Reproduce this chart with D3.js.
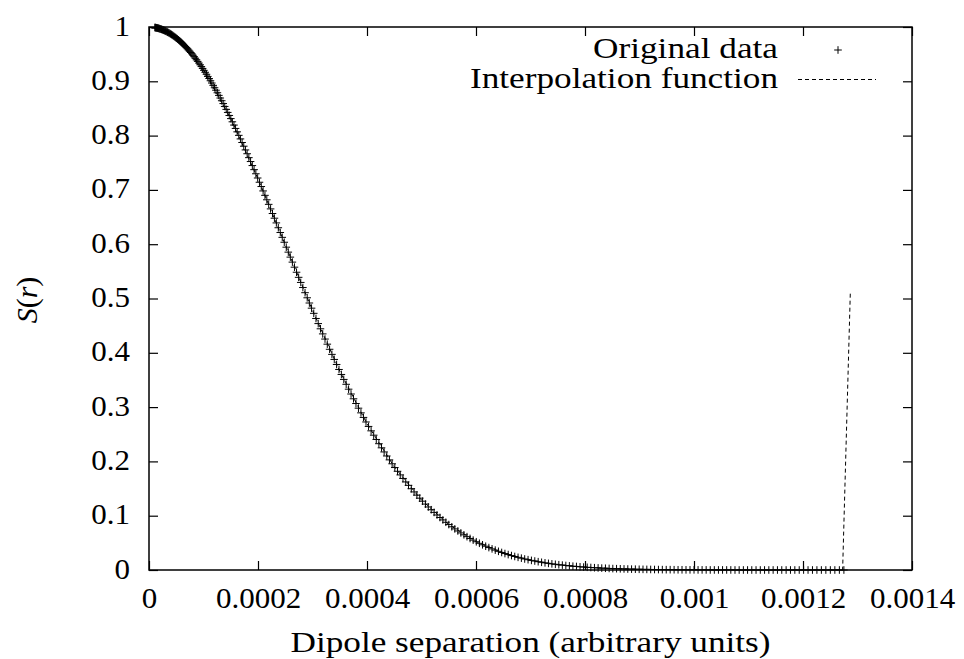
<!DOCTYPE html>
<html><head><meta charset="utf-8">
<script src="https://cdn.jsdelivr.net/npm/d3@7"></script>
<style>body{margin:0;background:#fff} svg{display:block}</style>
</head><body><svg id="c" width="964" height="659"></svg>
<script>
const xTicks = [0, 0.0002, 0.0004, 0.0006, 0.0008, 0.001, 0.0012, 0.0014];
const xTickLabels = ["0","0.0002","0.0004","0.0006","0.0008","0.001","0.0012","0.0014"];
const yTicks = [0, 0.1, 0.2, 0.3, 0.4, 0.5, 0.6, 0.7, 0.8, 0.9, 1];
const yTickLabels = ["0","0.1","0.2","0.3","0.4","0.5","0.6","0.7","0.8","0.9","1"];
const seriesNames = ["Original data", "Interpolation function"];

// Original data: dipole separation r and S(r)
const dataR = [
10.68e-6,11.45e-6,12.26e-6,13.09e-6,13.94e-6,14.83e-6,15.74e-6,16.68e-6,17.65e-6,18.64e-6,
19.66e-6,20.71e-6,21.79e-6,22.89e-6,24.02e-6,25.18e-6,26.36e-6,27.57e-6,28.81e-6,30.08e-6,
31.37e-6,32.69e-6,34.04e-6,35.42e-6,36.82e-6,38.25e-6,39.71e-6,41.19e-6,42.70e-6,44.24e-6,
45.81e-6,47.40e-6,49.02e-6,50.67e-6,52.34e-6,54.05e-6,55.78e-6,57.53e-6,59.32e-6,61.13e-6,
62.97e-6,64.83e-6,66.72e-6,68.64e-6,70.59e-6,72.57e-6,74.57e-6,76.60e-6,78.65e-6,80.74e-6,
82.85e-6,84.98e-6,87.15e-6,89.34e-6,91.56e-6,93.81e-6,96.08e-6,98.38e-6,100.71e-6,103.07e-6,
105.45e-6,107.86e-6,110.30e-6,112.76e-6,115.25e-6,117.77e-6,120.32e-6,122.89e-6,125.49e-6,128.12e-6,
130.78e-6,133.46e-6,136.17e-6,138.91e-6,141.67e-6,144.46e-6,147.28e-6,150.13e-6,153.00e-6,155.90e-6,
158.83e-6,161.78e-6,164.77e-6,167.78e-6,170.81e-6,173.88e-6,176.96e-6,180.08e-6,183.23e-6,186.40e-6,
189.60e-6,192.83e-6,196.08e-6,199.37e-6,202.68e-6,206.01e-6,209.38e-6,212.77e-6,216.18e-6,219.63e-6,
223.10e-6,226.60e-6,230.13e-6,233.68e-6,237.26e-6,240.87e-6,244.51e-6,248.17e-6,251.86e-6,255.58e-6,
259.32e-6,263.09e-6,266.89e-6,270.72e-6,274.57e-6,278.45e-6,282.36e-6,286.30e-6,290.26e-6,294.25e-6,
298.27e-6,302.31e-6,306.38e-6,310.48e-6,314.61e-6,318.76e-6,322.94e-6,327.15e-6,331.38e-6,335.65e-6,
339.93e-6,344.25e-6,348.60e-6,352.97e-6,357.37e-6,361.79e-6,366.24e-6,370.72e-6,375.23e-6,379.76e-6,
384.33e-6,388.91e-6,393.53e-6,398.18e-6,402.85e-6,407.54e-6,412.27e-6,417.02e-6,421.80e-6,426.61e-6,
431.44e-6,436.30e-6,441.19e-6,446.11e-6,451.05e-6,456.02e-6,461.02e-6,466.04e-6,471.09e-6,476.17e-6,
481.28e-6,486.41e-6,491.57e-6,496.76e-6,501.98e-6,507.22e-6,512.49e-6,517.79e-6,523.11e-6,528.46e-6,
533.84e-6,539.25e-6,544.68e-6,550.14e-6,555.63e-6,561.14e-6,566.69e-6,572.25e-6,577.85e-6,583.48e-6,
589.13e-6,594.80e-6,600.51e-6,606.24e-6,612.00e-6,617.79e-6,623.60e-6,629.45e-6,635.31e-6,641.21e-6,
647.13e-6,653.09e-6,659.06e-6,665.07e-6,671.10e-6,677.16e-6,683.25e-6,689.36e-6,695.50e-6,701.67e-6,
707.87e-6,714.09e-6,720.34e-6,726.62e-6,732.92e-6,739.25e-6,745.61e-6,752.00e-6,758.41e-6,764.85e-6,
771.32e-6,777.82e-6,784.34e-6,790.89e-6,797.47e-6,804.07e-6,810.70e-6,817.36e-6,824.05e-6,830.76e-6,
837.50e-6,844.27e-6,851.06e-6,857.89e-6,864.73e-6,871.61e-6,878.51e-6,885.44e-6,892.40e-6,899.39e-6,
906.40e-6,913.44e-6,920.51e-6,927.60e-6,934.72e-6,941.87e-6,949.05e-6,956.25e-6,963.48e-6,970.74e-6,
978.03e-6,985.34e-6,992.68e-6,1000.05e-6,1007.44e-6,1014.86e-6,1022.31e-6,1029.79e-6,1037.29e-6,1044.82e-6,
1052.38e-6,1059.96e-6,1067.57e-6,1075.21e-6,1082.88e-6,1090.57e-6,1098.29e-6,1106.04e-6,1113.82e-6,1121.62e-6,
1129.45e-6,1137.31e-6,1145.20e-6,1153.10e-6,1161.04e-6,1169.01e-6,1177.00e-6,1185.02e-6,1193.07e-6,1201.14e-6,
1209.25e-6,1217.37e-6,1225.53e-6,1233.71e-6,1241.92e-6,1250.16e-6,1258.43e-6,1266.72e-6,1275.04e-6
];
const dataS = [
0.9991,0.9989,0.9988,0.9986,0.9984,0.9982,0.9980,0.9977,0.9975,0.9972,
0.9968,0.9965,0.9961,0.9957,0.9953,0.9948,0.9943,0.9938,0.9932,0.9926,
0.9920,0.9913,0.9905,0.9898,0.9889,0.9881,0.9872,0.9862,0.9852,0.9841,
0.9829,0.9818,0.9805,0.9792,0.9778,0.9763,0.9748,0.9732,0.9716,0.9698,
0.9680,0.9661,0.9642,0.9621,0.9600,0.9577,0.9554,0.9530,0.9506,0.9480,
0.9453,0.9425,0.9396,0.9367,0.9336,0.9304,0.9271,0.9237,0.9202,0.9166,
0.9129,0.9090,0.9051,0.9010,0.8968,0.8925,0.8881,0.8836,0.8789,0.8741,
0.8692,0.8642,0.8590,0.8537,0.8483,0.8427,0.8371,0.8313,0.8254,0.8194,
0.8132,0.8069,0.8005,0.7939,0.7873,0.7805,0.7736,0.7666,0.7594,0.7522,
0.7448,0.7373,0.7297,0.7219,0.7141,0.7062,0.6981,0.6900,0.6818,0.6734,
0.6650,0.6565,0.6479,0.6392,0.6303,0.6215,0.6126,0.6036,0.5945,0.5854,
0.5762,0.5670,0.5577,0.5484,0.5390,0.5296,0.5202,0.5107,0.5013,0.4917,
0.4822,0.4727,0.4632,0.4538,0.4442,0.4348,0.4253,0.4159,0.4065,0.3971,
0.3878,0.3785,0.3693,0.3601,0.3510,0.3420,0.3330,0.3241,0.3153,0.3066,
0.2980,0.2894,0.2810,0.2726,0.2644,0.2563,0.2483,0.2404,0.2326,0.2250,
0.2174,0.2100,0.2028,0.1956,0.1887,0.1818,0.1751,0.1686,0.1622,0.1559,
0.1497,0.1438,0.1379,0.1323,0.1267,0.1214,0.1161,0.1110,0.1061,0.1013,
0.0967,0.0922,0.0879,0.0837,0.0796,0.0757,0.0719,0.0683,0.0648,0.0614,
0.0581,0.0550,0.0520,0.0492,0.0464,0.0438,0.0413,0.0389,0.0366,0.0344,
0.0323,0.0303,0.0284,0.0266,0.0249,0.0233,0.0218,0.0203,0.0190,0.0177,
0.0165,0.0153,0.0142,0.0132,0.0122,0.0113,0.0105,0.0097,0.0090,0.0083,
0.0076,0.0070,0.0065,0.0059,0.0054,0.0050,0.0046,0.0042,0.0038,0.0035,
0.0032,0.0029,0.0026,0.0024,0.0022,0.0020,0.0018,0.0016,0.0015,0.0013,
0.0012,0.0011,0.0010,0.0009,0.0008,0.0007,0.0006,0.0006,0.0005,0.0004,
0.0004,0.0003,0.0003,0.0003,0.0002,0.0002,0.0002,0.0001,0.0001,0.0001,
0.0001,0.0001,0.0001,0,0,0,0,0,0,0,
0,0,0,0,0,0,0,0,0,0,
0,0,0,0,0,0,0,0,0
];

// Interpolation function samples
const interpR = [0,50e-6,100e-6,150e-6,200e-6,250e-6,300e-6,350e-6,400e-6,450e-6,500e-6,550e-6,600e-6,650e-6,
  700e-6,750e-6,800e-6,850e-6,900e-6,950e-6,1000e-6,1050e-6,1100e-6,1150e-6,1200e-6,1250e-6,1272.7e-6,1286.9e-6];
const interpS = [1,0.9797,0.9213,0.8316,0.7204,0.5991,0.4782,0.3664,0.2694,0.1901,0.1288,0.0838,0.0523,0.0313,
  0.0180,0.0099,0.0053,0.0027,0.0013,0.0006,0.0003,0.0001,0,0,0,0,0,0.514];

const svg = d3.select("#c");
const FONT = "'Liberation Serif', 'DejaVu Serif', serif";
const L = 149, R = 912, T = 27, B = 570;
const x = d3.scaleLinear().domain([0, 0.0014]).range([L, R]);
const y = d3.scaleLinear().domain([0, 1]).range([B, T]);
const TK = 9;
const FS = 30;
// advance width of a tick label in the reference's narrow serif face
const labelWidth = s => [...s].reduce((w, c) => w + (c === "." ? 7.75 : 15.5), 0);

svg.append("rect").attr("width", 964).attr("height", 659).attr("fill", "#fff");

function styleAxis(g) {
  g.attr("font-family", null).attr("font-size", null);
  g.select(".domain").remove();
  g.selectAll(".tick line").attr("stroke", "#000").attr("stroke-width", 1.2);
  g.selectAll("text").style("font-family", FONT).attr("font-size", FS).attr("fill", "#000")
    .attr("textLength", function () { return labelWidth(this.textContent); })
    .attr("lengthAdjust", "spacingAndGlyphs");
}

// bottom
svg.append("g").attr("transform", `translate(0,${B})`)
  .call(d3.axisBottom(x).tickValues(xTicks).tickSizeInner(-TK).tickSizeOuter(0)
    .tickFormat((d, i) => xTickLabels[i]))
  .call(styleAxis)
  .call(g => g.selectAll("text").attr("dy", null).attr("y", 38));
// top mirror
svg.append("g").attr("transform", `translate(0,${T})`)
  .call(d3.axisTop(x).tickValues(xTicks).tickSizeInner(-TK).tickSizeOuter(0).tickFormat(""))
  .call(styleAxis);
// left
svg.append("g").attr("transform", `translate(${L},0)`)
  .call(d3.axisLeft(y).tickValues(yTicks).tickSizeInner(-TK).tickSizeOuter(0)
    .tickFormat((d, i) => yTickLabels[i]))
  .call(styleAxis)
  .call(g => g.selectAll("text").attr("dy", null).attr("y", 8).attr("x", -19).attr("text-anchor", "end"));
// right mirror
svg.append("g").attr("transform", `translate(${R},0)`)
  .call(d3.axisRight(y).tickValues(yTicks).tickSizeInner(-TK).tickSizeOuter(0).tickFormat(""))
  .call(styleAxis);

// border
svg.append("rect").attr("x", L).attr("y", T).attr("width", R - L).attr("height", B - T)
  .attr("fill", "none").attr("stroke", "#000").attr("stroke-width", 1.5);

// clip for lines
svg.append("clipPath").attr("id", "clip").append("rect")
  .attr("x", L).attr("y", T).attr("width", R - L).attr("height", B - T);

// data markers (+)
const P = 3.8;
const pts = dataR.map((r, i) => [x(r), y(dataS[i])]);
svg.append("g").selectAll("path").data(pts).join("path")
  .attr("d", d => `M${d[0] - P},${d[1]}h${2 * P}M${d[0]},${d[1] - P}v${2 * P}`)
  .attr("stroke", "#000").attr("stroke-width", 1).attr("fill", "none");

// interpolation function
const line = d3.line().x(d => x(d[0])).y(d => y(d[1]));
svg.append("path").attr("clip-path", "url(#clip)")
  .attr("d", line(interpR.map((r, i) => [r, interpS[i]])))
  .attr("fill", "none").attr("stroke", "#000").attr("stroke-width", 1).attr("stroke-dasharray", "4,3");

// legend
svg.append("text").attr("x", 778).attr("y", 58).attr("text-anchor", "end")
  .style("font-family", FONT).attr("font-size", 29).attr("textLength", 185)
  .attr("lengthAdjust", "spacingAndGlyphs").text(seriesNames[0]);
svg.append("text").attr("x", 778).attr("y", 88).attr("text-anchor", "end")
  .style("font-family", FONT).attr("font-size", 29).attr("textLength", 308)
  .attr("lengthAdjust", "spacingAndGlyphs").text(seriesNames[1]);
svg.append("path").attr("d", `M${838 - P},50h${2 * P}M838,${50 - P}v${2 * P}`)
  .attr("stroke", "#000").attr("stroke-width", 1);
svg.append("line").attr("x1", 798).attr("x2", 876).attr("y1", 79.5).attr("y2", 79.5)
  .attr("stroke", "#000").attr("stroke-width", 1).attr("stroke-dasharray", "4,3");

// axis labels
svg.append("text").attr("x", (L + R) / 2).attr("y", 652).attr("text-anchor", "middle")
  .style("font-family", FONT).attr("font-size", FS).attr("textLength", 480)
  .attr("lengthAdjust", "spacingAndGlyphs").text("Dipole separation (arbitrary units)");
const yl = svg.append("text").attr("transform", "translate(37,300) rotate(-90)")
  .attr("text-anchor", "middle").style("font-family", FONT).attr("font-size", FS);
yl.append("tspan").attr("font-style", "italic").text("S");
yl.append("tspan").text("(");
yl.append("tspan").attr("font-style", "italic").text("r");
yl.append("tspan").text(")");
</script></body></html>
